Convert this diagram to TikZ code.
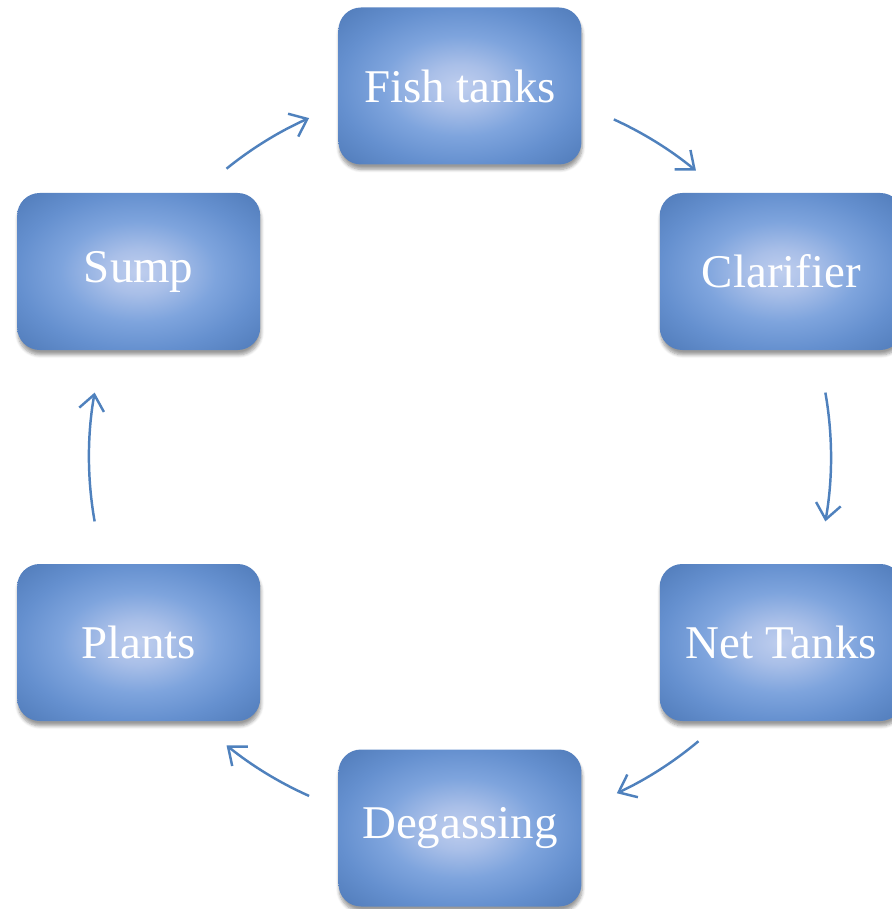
\documentclass[tikz,border=0pt]{standalone}
\usepackage{fontspec}
\setmainfont{Liberation Serif}
\usepackage{tikz}
\usetikzlibrary{arrows.meta}
\usetikzlibrary{shadows.blur}

\definecolor{flowblue}{HTML}{4F81BD}
\definecolor{stagelight}{HTML}{BFCEEE}
\definecolor{stagesoft}{HTML}{A9BFE8}
\definecolor{stagemid}{HTML}{7EA4DD}
\definecolor{stageedge}{HTML}{6590CF}
\definecolor{stagedark}{HTML}{517CBA}
\pgfdeclareradialshading{stageshade}{\pgfpoint{0bp}{0bp}}{color(0bp)=(stagelight); color(7bp)=(stagesoft); color(16bp)=(stagemid); color(25bp)=(stageedge); color(35bp)=(stagedark); color(50bp)=(stagedark)}

\begin{document}
\begin{tikzpicture}
\tikzstyle{stage}=[rectangle, rounded corners=0.45cm, minimum width=4.86cm,
    minimum height=3.14cm, shading=stageshade, text=white,
    font=\fontsize{26.7}{30}\selectfont,
    blur shadow={shadow xshift=0.4pt, shadow yshift=-2.8pt, shadow blur steps=6, shadow opacity=40}]
\tikzstyle{flow}=[draw=flowblue, line width=1.4pt,
    -{Straight Barb[length=0.31cm, width=0.5cm]}]

\useasboundingbox (-9.20,-9.04) rectangle (8.64,9.14);

 \node[stage] (fish) at (90:7.42) {Fish tanks};
 \node[stage] (clar) at (30:7.42) {Clarifier};
 \node[stage] (net) at (-30:7.42) {Net Tanks};
 \node[stage] (degas) at (-90:7.42) {Degassing};
 \node[stage] (plants) at (-150:7.42) {Plants};
 \node[stage] (sump) at (150:7.42) {Sump};

% flow arrows on the circle between the stages
\coordinate (f1) at (129:7.42);
\coordinate (f2) at (65.5:7.42);
\coordinate (f3) at (10:7.42);
\coordinate (f4) at (-50:7.42);
\coordinate (f5) at (-114:7.42);
\coordinate (f6) at (190:7.42);
\draw[flow] (f1) arc[start angle=129, end angle=114, radius=7.42];
\draw[flow] (f2) arc[start angle=65.5, end angle=50.5, radius=7.42];
\draw[flow] (f3) arc[start angle=10, end angle=-10, radius=7.42];
\draw[flow] (f4) arc[start angle=-50, end angle=-65, radius=7.42];
\draw[flow] (f5) arc[start angle=-114, end angle=-129, radius=7.42];
\draw[flow] (f6) arc[start angle=190, end angle=170, radius=7.42];

\end{tikzpicture}
\end{document}
